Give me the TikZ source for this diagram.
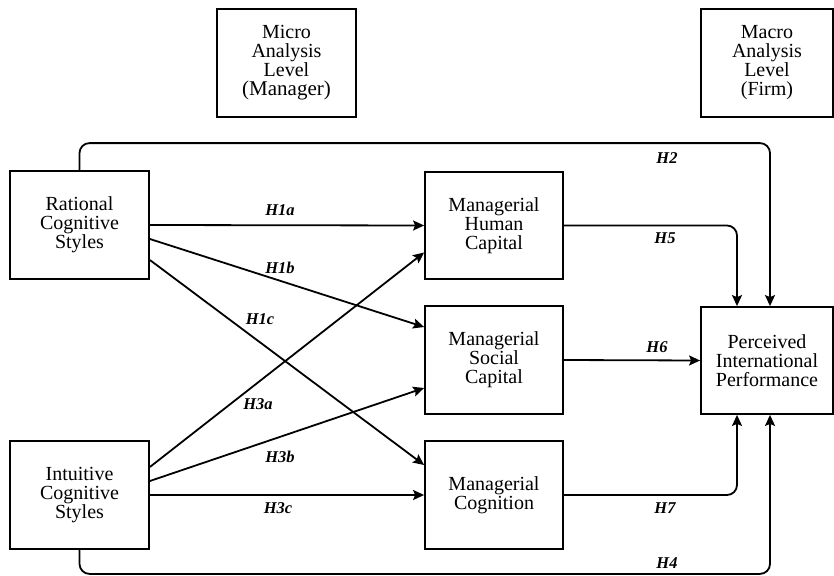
\documentclass[tikz,border=0pt]{standalone}
\usepackage{fontspec}
\setmainfont{Liberation Serif}
\usetikzlibrary{arrows.meta,calc}
\tikzset{
  box/.style={draw, line width=1.8pt, inner sep=0pt, align=center,
    font=\fontsize{20}{19}\selectfont},
  conn/.style={line width=1.8pt, -{Stealth[length=11pt,width=10pt,inset=2pt]}},
  lbl/.style={font=\fontsize{16.5}{18}\selectfont\bfseries\itshape, inner sep=1pt},
}
\begin{document}
\begin{tikzpicture}[x=1pt,y=-1pt]
\useasboundingbox (0,0) rectangle (834,575);
% boxes
\node[box, minimum width=139, minimum height=108] (micro) at (286.5,63) {Micro\\Analysis\\Level\\{\fontsize{21}{19}\selectfont(Manager)}};
\node[box, minimum width=132, minimum height=108] (macro) at (767,63) {Macro\\Analysis\\Level\\(Firm)};
\node[box, minimum width=139, minimum height=108] (rat) at (79.5,225) {Rational\\Cognitive\\Styles};
\node[box, minimum width=139, minimum height=108] (int) at (79.5,495) {Intuitive\\Cognitive\\Styles};
\node[box, minimum width=138, minimum height=107] (hum) at (494,225.5) {Managerial\\Human\\Capital};
\node[box, minimum width=138, minimum height=108] (soc) at (494,360) {Managerial\\Social\\Capital};
\node[box, minimum width=138, minimum height=108] (cog) at (494,495) {Managerial\\Cognition};
\node[box, minimum width=132, minimum height=107] (perc) at (767,360.5) {Perceived\\International\\Performance};
% connectors
\draw[conn, rounded corners=10pt] (rat.north) -- ++(0,-27) -| ($(perc.north)+(3,0)$);
\draw[conn, rounded corners=10pt] (int.south) -- ++(0,24) -| ($(perc.south)+(3,0)$);
\draw[conn, rounded corners=10pt] (hum.east) -| ($(perc.north)+(-30,0)$);
\draw[conn, rounded corners=10pt] (cog.east) -| ($(perc.south)+(-30,0)$);
\draw[conn] (soc.east) -- (perc.west);
\draw[conn] (rat.east) -- (hum.west);
\draw[conn] ($(rat.east)+(0,14)$) -- ($(soc.west)+(0,-33)$);
\draw[conn] ($(rat.east)+(0,35)$) -- ($(cog.west)+(0,-30)$);
\draw[conn] ($(int.east)+(0,-28)$) -- ($(hum.west)+(0,27)$);
\draw[conn] ($(int.east)+(0,-14)$) -- ($(soc.west)+(0,28)$);
\draw[conn] (int.east) -- (cog.west);
% labels
\node[lbl] (l1a) at (280,210) {H1a};
\node[lbl] (l1b) at (280,268) {H1b};
\node[lbl] (l1c) at (260,319) {H1c};
\node[lbl] (l3a) at (258,404) {H3a};
\node[lbl] (l3b) at (280,457) {H3b};
\node[lbl] (l3c) at (278,508) {H3c};
\node[lbl] (l2) at (667,158) {H2};
\node[lbl] (l5) at (665,238) {H5};
\node[lbl] (l6) at (657,347) {H6};
\node[lbl] (l7) at (665,508) {H7};
\node[lbl] (l4) at (667,563) {H4};
\end{tikzpicture}
\end{document}
